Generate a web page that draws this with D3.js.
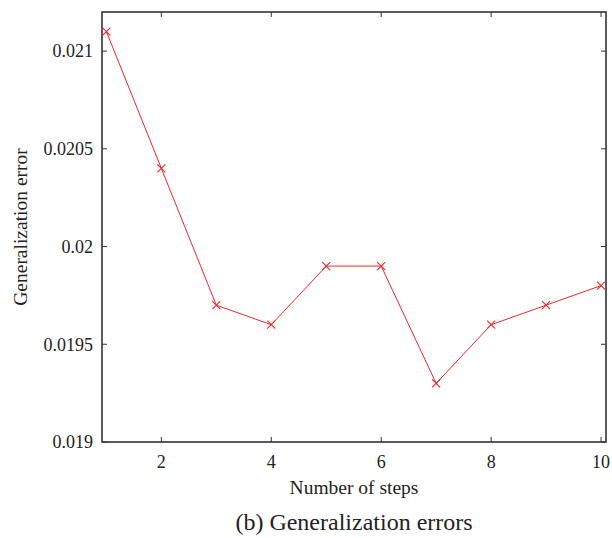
<!DOCTYPE html>
<html><head><meta charset="utf-8">
<script src="https://cdn.jsdelivr.net/npm/d3@7"></script>
<style>body{margin:0;background:#fff}svg{display:block}</style>
</head><body>
<script>
const steps = [1,2,3,4,5,6,7,8,9,10];
const errors = [0.0211,0.0204,0.0197,0.0196,0.0199,0.0199,0.0193,0.0196,0.0197,0.0198];
const xTicks = [2,4,6,8,10];
const yTicks = [0.019,0.0195,0.02,0.0205,0.021];
const yTickLabels = ["0.019","0.0195","0.02","0.0205","0.021"];

const W=612,H=538;
const L=102,R=606,T=12,B=442;
const FF='"Liberation Serif", "Times New Roman", serif';
const svg=d3.select("body").append("svg").attr("width",W).attr("height",H);
const x=d3.scaleLinear().domain([0.92,10.09]).range([L,R]);
const y=d3.scaleLinear().domain([0.019,0.0212]).range([B,T]);
const tl=5, ac="#333", tc="#222";
const g=svg.append("g");
xTicks.forEach(v=>{
  g.append("line").attr("x1",x(v)).attr("x2",x(v)).attr("y1",B).attr("y2",B-tl).attr("stroke",ac).attr("stroke-width",1);
  g.append("line").attr("x1",x(v)).attr("x2",x(v)).attr("y1",T).attr("y2",T+tl).attr("stroke",ac).attr("stroke-width",1);
  g.append("text").attr("x",x(v)).attr("y",B+26).attr("text-anchor","middle").attr("font-size",18).style("font-family",FF).attr("fill",tc).text(v);
});
yTicks.forEach((v,i)=>{
  g.append("line").attr("x1",L).attr("x2",L+tl).attr("y1",y(v)).attr("y2",y(v)).attr("stroke",ac).attr("stroke-width",1);
  g.append("line").attr("x1",R).attr("x2",R-tl).attr("y1",y(v)).attr("y2",y(v)).attr("stroke",ac).attr("stroke-width",1);
  g.append("text").attr("x",L-9).attr("y",y(v)).attr("dy","0.35em").attr("text-anchor","end").attr("font-size",18).style("font-family",FF).attr("fill",tc).text(yTickLabels[i]);
});
g.append("rect").attr("x",L).attr("y",T).attr("width",R-L).attr("height",B-T).attr("fill","none").attr("stroke",ac).attr("stroke-width",1.6);

const line=d3.line().x((d,i)=>x(steps[i])).y(d=>y(d));
svg.append("path").datum(errors).attr("d",line).attr("fill","none").attr("stroke","#f0262a").attr("stroke-width",1);
const s=4;
svg.selectAll(".m").data(errors).enter().append("path")
  .attr("d",(d,i)=>`M${x(steps[i])-s},${y(d)-s}L${x(steps[i])+s},${y(d)+s}M${x(steps[i])-s},${y(d)+s}L${x(steps[i])+s},${y(d)-s}`)
  .attr("stroke","#f0262a").attr("stroke-width",1.1).attr("fill","none");

svg.append("text").attr("x",354).attr("y",494).attr("text-anchor","middle").attr("font-size",19.5).style("font-family",FF).attr("fill",tc).text("Number of steps");
svg.append("text").attr("transform",`translate(27,${(T+B)/2}) rotate(-90)`).attr("text-anchor","middle").attr("font-size",19.5).style("font-family",FF).attr("fill",tc).text("Generalization error");
svg.append("text").attr("x",354).attr("y",530).attr("text-anchor","middle").attr("font-size",24).style("font-family",FF).attr("fill",tc).text("(b) Generalization errors");
</script>
</body></html>
